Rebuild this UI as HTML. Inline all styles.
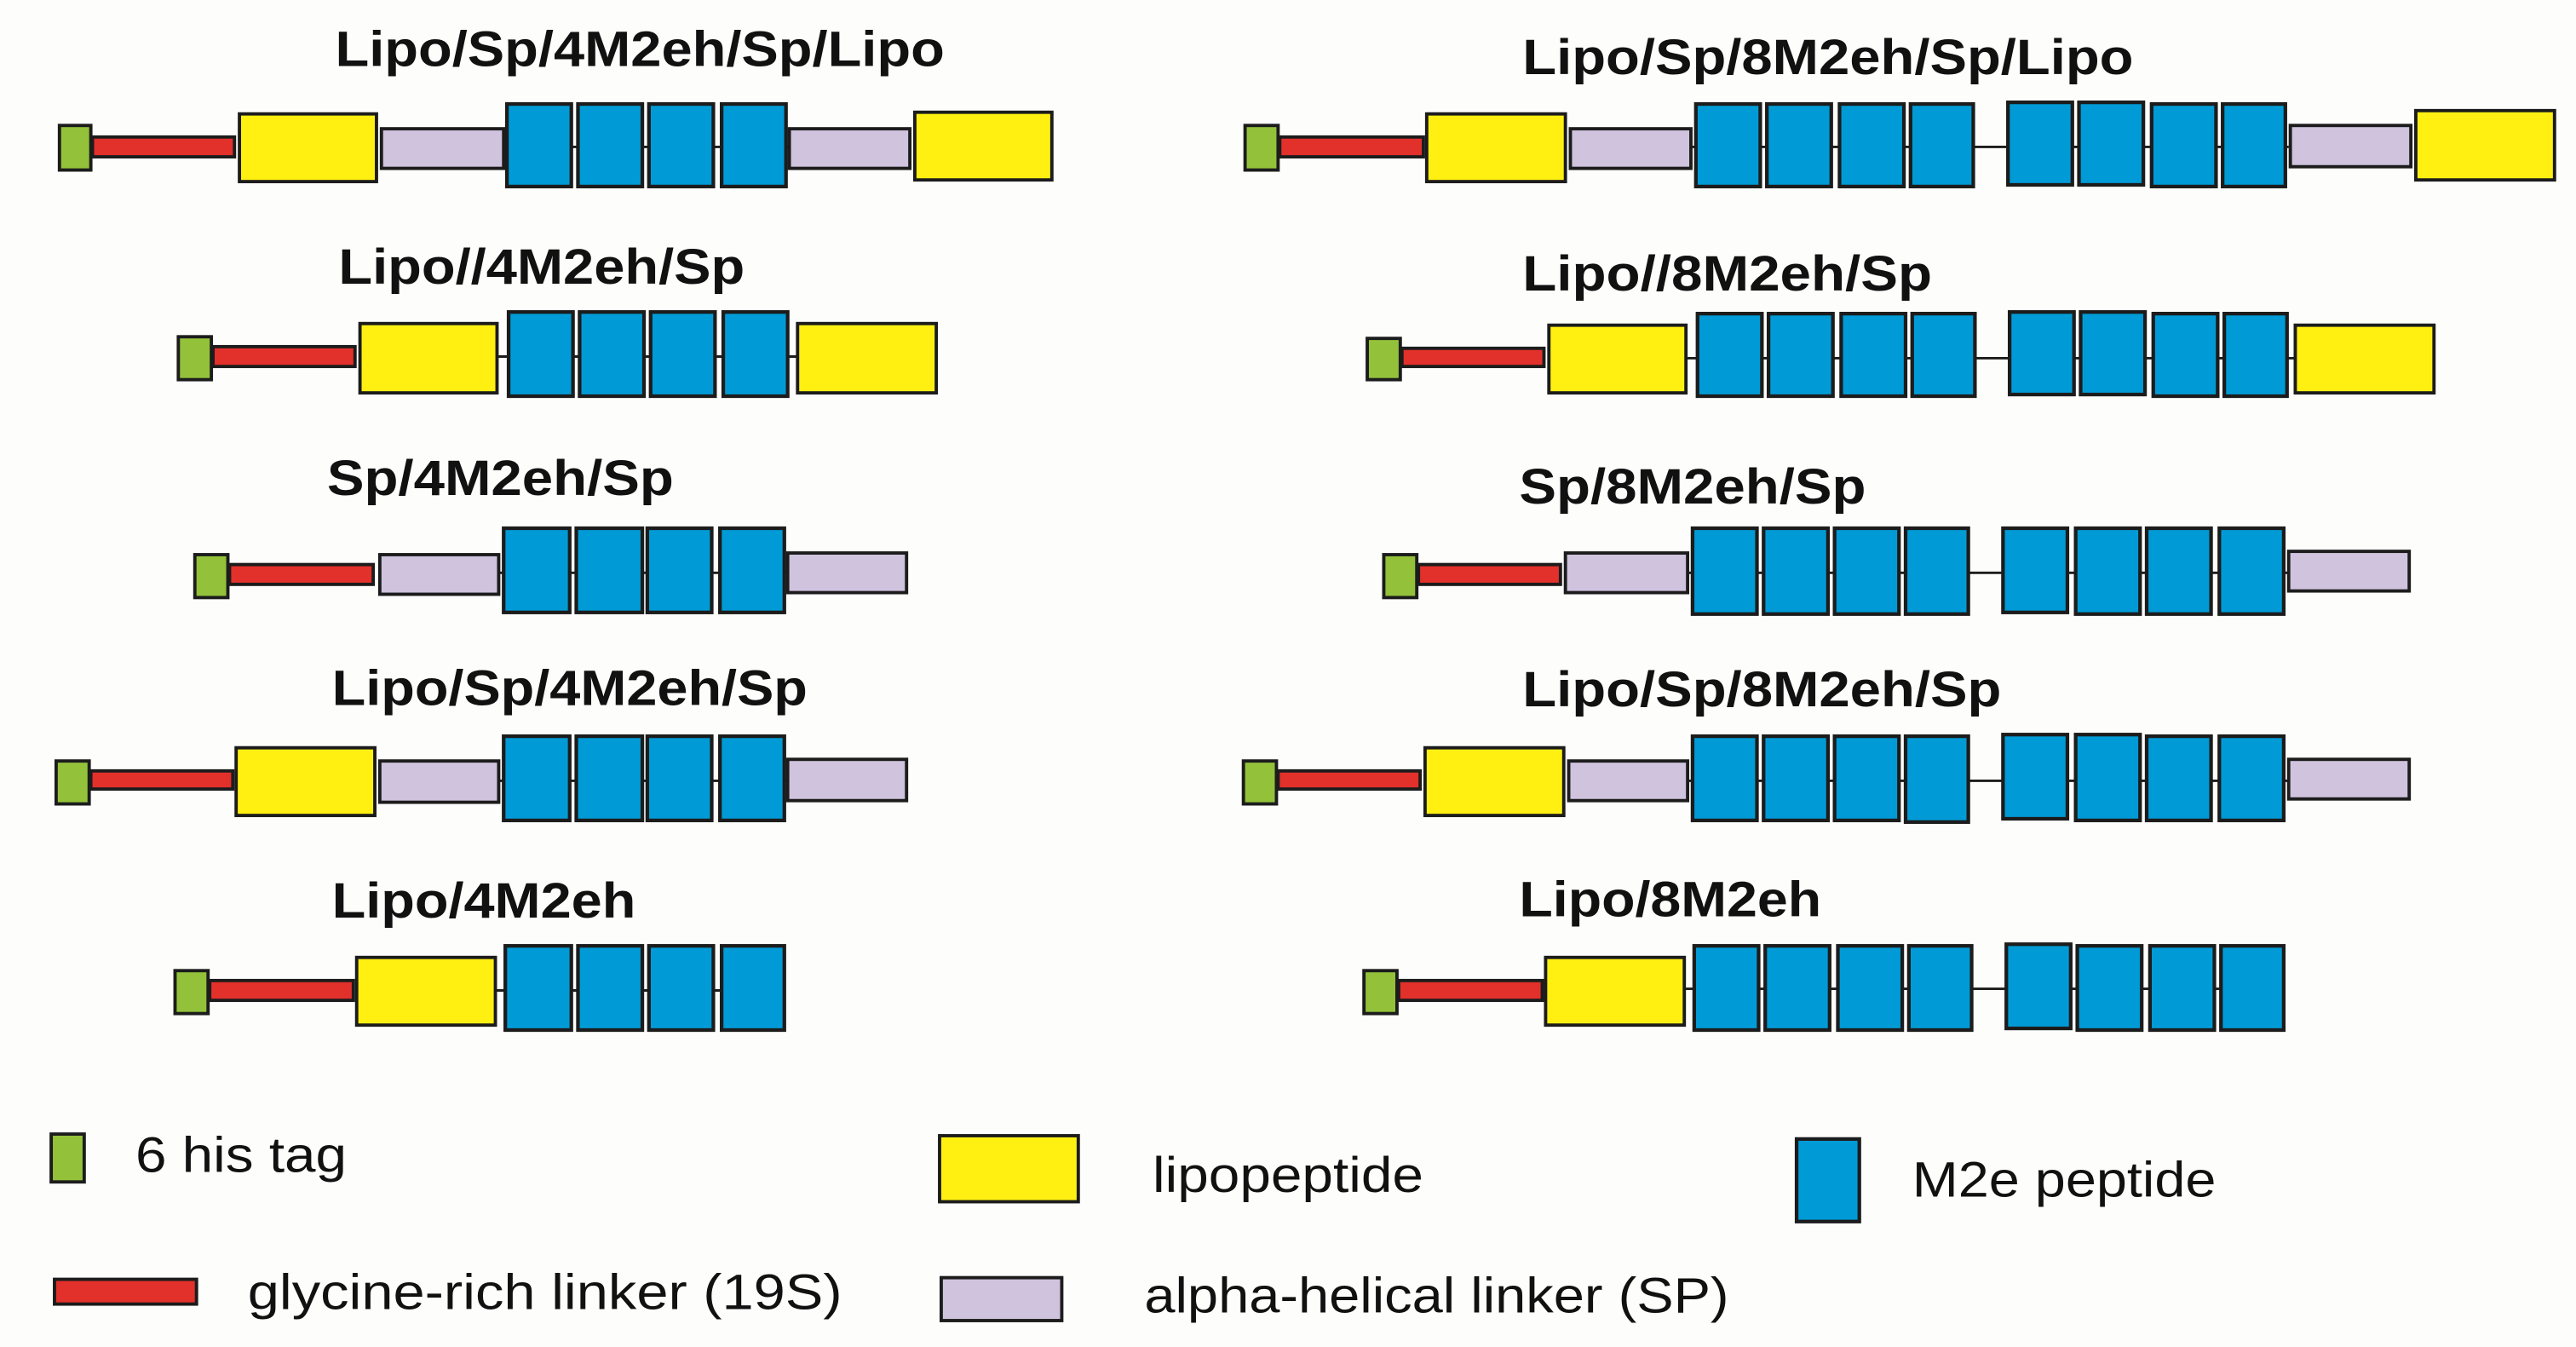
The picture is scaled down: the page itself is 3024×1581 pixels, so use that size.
<!DOCTYPE html>
<html><head><meta charset="utf-8"><style>
html,body{margin:0;padding:0;background:#fdfdfc;}
svg{display:block}
.g{fill:#93c23a;stroke:#1c1c1c;stroke-width:2}
.r{fill:#e2302b;stroke:#1c1c1c;stroke-width:2}
.y{fill:#fff012;stroke:#1c1c1c;stroke-width:2}
.l{fill:#cfc3de;stroke:#1c1c1c;stroke-width:2}
.b{fill:#009bd6;stroke:#1c1c1c;stroke-width:2.2}
.ln{stroke:#1c1c1c;stroke-width:1.5}
.t{font-family:"Liberation Sans",Arial,sans-serif;font-weight:bold;font-size:30px;fill:#111}
.n{font-family:"Liberation Sans",Arial,sans-serif;font-size:30px;fill:#111}
</style></head><body>
<svg width="3024" height="1581" viewBox="0 0 1560 816" preserveAspectRatio="none" xmlns="http://www.w3.org/2000/svg">
<rect width="1560" height="816" fill="#fdfdfc"/>

<!-- LEFT COLUMN -->
<!-- Row 1 -->
<text class="t" x="203" y="40" textLength="369" lengthAdjust="spacingAndGlyphs">Lipo/Sp/4M2eh/Sp/Lipo</text>
<line class="ln" x1="305" y1="89" x2="478" y2="89"/>
<rect class="g" x="36" y="76" width="19" height="27"/>
<rect class="r" x="56" y="83" width="86" height="12"/>
<rect class="y" x="145" y="69" width="83" height="41"/>
<rect class="l" x="231" y="78" width="74" height="24"/>
<rect class="b" x="307" y="63" width="39" height="50"/>
<rect class="b" x="350" y="63" width="39" height="50"/>
<rect class="b" x="393" y="63" width="39" height="50"/>
<rect class="b" x="437" y="63" width="39" height="50"/>
<rect class="l" x="478" y="78" width="73" height="24"/>
<rect class="y" x="554" y="68" width="83" height="41"/>

<!-- Row 2 -->
<text class="t" x="205" y="172" textLength="246" lengthAdjust="spacingAndGlyphs">Lipo//4M2eh/Sp</text>
<line class="ln" x1="301" y1="216" x2="483" y2="216"/>
<rect class="g" x="108" y="204" width="20" height="26"/>
<rect class="r" x="129" y="210" width="86" height="12"/>
<rect class="y" x="218" y="196" width="83" height="42"/>
<rect class="b" x="308" y="189" width="39" height="51"/>
<rect class="b" x="351" y="189" width="39" height="51"/>
<rect class="b" x="394" y="189" width="39" height="51"/>
<rect class="b" x="438" y="189" width="39" height="51"/>
<rect class="y" x="483" y="196" width="84" height="42"/>

<!-- Row 3 -->
<text class="t" x="198" y="300" textLength="210" lengthAdjust="spacingAndGlyphs">Sp/4M2eh/Sp</text>
<line class="ln" x1="302" y1="347" x2="477" y2="347"/>
<rect class="g" x="118" y="336" width="20" height="26"/>
<rect class="r" x="139" y="342" width="87" height="12"/>
<rect class="l" x="230" y="336" width="72" height="24"/>
<rect class="b" x="305" y="320" width="40" height="51"/>
<rect class="b" x="349" y="320" width="40" height="51"/>
<rect class="b" x="392" y="320" width="39" height="51"/>
<rect class="b" x="436" y="320" width="39" height="51"/>
<rect class="l" x="477" y="335" width="72" height="24"/>

<!-- Row 4 -->
<text class="t" x="201" y="427" textLength="288" lengthAdjust="spacingAndGlyphs">Lipo/Sp/4M2eh/Sp</text>
<line class="ln" x1="302" y1="473" x2="477" y2="473"/>
<rect class="g" x="34" y="461" width="20" height="26"/>
<rect class="r" x="55" y="467" width="86" height="11"/>
<rect class="y" x="143" y="453" width="84" height="41"/>
<rect class="l" x="230" y="461" width="72" height="25"/>
<rect class="b" x="305" y="446" width="40" height="51"/>
<rect class="b" x="349" y="446" width="40" height="51"/>
<rect class="b" x="392" y="446" width="39" height="51"/>
<rect class="b" x="436" y="446" width="39" height="51"/>
<rect class="l" x="477" y="460" width="72" height="25"/>

<!-- Row 5 -->
<text class="t" x="201" y="556" textLength="184" lengthAdjust="spacingAndGlyphs">Lipo/4M2eh</text>
<line class="ln" x1="300" y1="600" x2="475" y2="600"/>
<rect class="g" x="106" y="588" width="20" height="26"/>
<rect class="r" x="127" y="594" width="87" height="12"/>
<rect class="y" x="216" y="580" width="84" height="41"/>
<rect class="b" x="306" y="573" width="40" height="51"/>
<rect class="b" x="350" y="573" width="39" height="51"/>
<rect class="b" x="393" y="573" width="39" height="51"/>
<rect class="b" x="437" y="573" width="38" height="51"/>

<!-- RIGHT COLUMN -->
<!-- Row 1 -->
<text class="t" x="922" y="45" textLength="370" lengthAdjust="spacingAndGlyphs">Lipo/Sp/8M2eh/Sp/Lipo</text>
<line class="ln" x1="1024" y1="89" x2="1386" y2="89"/>
<rect class="g" x="754" y="76" width="20" height="27"/>
<rect class="r" x="775" y="83" width="87" height="12"/>
<rect class="y" x="864" y="69" width="84" height="41"/>
<rect class="l" x="951" y="78" width="73" height="24"/>
<rect class="b" x="1027" y="63" width="39" height="50"/>
<rect class="b" x="1070" y="63" width="39" height="50"/>
<rect class="b" x="1114" y="63" width="39" height="50"/>
<rect class="b" x="1157" y="63" width="38" height="50"/>
<rect class="b" x="1216" y="62" width="39" height="50"/>
<rect class="b" x="1259" y="62" width="39" height="50"/>
<rect class="b" x="1303" y="63" width="39" height="50"/>
<rect class="b" x="1346" y="63" width="38" height="50"/>
<rect class="l" x="1387" y="76" width="73" height="25"/>
<rect class="y" x="1463" y="67" width="84" height="42"/>

<!-- Row 2 -->
<text class="t" x="922" y="176" textLength="248" lengthAdjust="spacingAndGlyphs">Lipo//8M2eh/Sp</text>
<line class="ln" x1="1021" y1="217" x2="1390" y2="217"/>
<rect class="g" x="828" y="205" width="20" height="25"/>
<rect class="r" x="849" y="211" width="86" height="11"/>
<rect class="y" x="938" y="197" width="83" height="41"/>
<rect class="b" x="1028" y="190" width="39" height="50"/>
<rect class="b" x="1071" y="190" width="39" height="50"/>
<rect class="b" x="1115" y="190" width="39" height="50"/>
<rect class="b" x="1158" y="190" width="38" height="50"/>
<rect class="b" x="1217" y="189" width="39" height="50"/>
<rect class="b" x="1260" y="189" width="39" height="50"/>
<rect class="b" x="1304" y="190" width="39" height="50"/>
<rect class="b" x="1347" y="190" width="38" height="50"/>
<rect class="y" x="1390" y="197" width="84" height="41"/>

<!-- Row 3 -->
<text class="t" x="920" y="305" textLength="210" lengthAdjust="spacingAndGlyphs">Sp/8M2eh/Sp</text>
<line class="ln" x1="1022" y1="347" x2="1386" y2="347"/>
<rect class="g" x="838" y="336" width="20" height="26"/>
<rect class="r" x="859" y="342" width="86" height="12"/>
<rect class="l" x="948" y="335" width="74" height="24"/>
<rect class="b" x="1025" y="320" width="39" height="52"/>
<rect class="b" x="1068" y="320" width="39" height="52"/>
<rect class="b" x="1111" y="320" width="39" height="52"/>
<rect class="b" x="1154" y="320" width="38" height="52"/>
<rect class="b" x="1213" y="320" width="39" height="51"/>
<rect class="b" x="1257" y="320" width="39" height="52"/>
<rect class="b" x="1300" y="320" width="39" height="52"/>
<rect class="b" x="1344" y="320" width="39" height="52"/>
<rect class="l" x="1386" y="334" width="73" height="24"/>

<!-- Row 4 -->
<text class="t" x="922" y="428" textLength="290" lengthAdjust="spacingAndGlyphs">Lipo/Sp/8M2eh/Sp</text>
<line class="ln" x1="1022" y1="473" x2="1386" y2="473"/>
<rect class="g" x="753" y="461" width="20" height="26"/>
<rect class="r" x="774" y="467" width="86" height="11"/>
<rect class="y" x="863" y="453" width="84" height="41"/>
<rect class="l" x="950" y="461" width="72" height="24"/>
<rect class="b" x="1025" y="446" width="39" height="51"/>
<rect class="b" x="1068" y="446" width="39" height="51"/>
<rect class="b" x="1111" y="446" width="39" height="51"/>
<rect class="b" x="1154" y="446" width="38" height="52"/>
<rect class="b" x="1213" y="445" width="39" height="51"/>
<rect class="b" x="1257" y="445" width="39" height="52"/>
<rect class="b" x="1300" y="446" width="39" height="51"/>
<rect class="b" x="1344" y="446" width="39" height="51"/>
<rect class="l" x="1386" y="460" width="73" height="24"/>

<!-- Row 5 -->
<text class="t" x="920" y="555" textLength="183" lengthAdjust="spacingAndGlyphs">Lipo/8M2eh</text>
<line class="ln" x1="1020" y1="599" x2="1383" y2="599"/>
<rect class="g" x="826" y="588" width="20" height="26"/>
<rect class="r" x="847" y="594" width="87" height="12"/>
<rect class="y" x="936" y="580" width="84" height="41"/>
<rect class="b" x="1026" y="573" width="39" height="51"/>
<rect class="b" x="1069" y="573" width="39" height="51"/>
<rect class="b" x="1113" y="573" width="39" height="51"/>
<rect class="b" x="1156" y="573" width="38" height="51"/>
<rect class="b" x="1215" y="572" width="39" height="51"/>
<rect class="b" x="1258" y="573" width="39" height="51"/>
<rect class="b" x="1302" y="573" width="39" height="51"/>
<rect class="b" x="1345" y="573" width="38" height="51"/>

<!-- LEGEND -->
<rect class="g" x="31" y="687" width="20" height="29"/>
<text class="n" x="82" y="710" textLength="128" lengthAdjust="spacingAndGlyphs">6 his tag</text>
<rect class="y" x="569" y="688" width="84" height="40"/>
<text class="n" x="698" y="722" textLength="164" lengthAdjust="spacingAndGlyphs">lipopeptide</text>
<rect class="b" x="1088" y="690" width="38" height="50"/>
<text class="n" x="1158" y="725" textLength="184" lengthAdjust="spacingAndGlyphs">M2e peptide</text>
<rect class="r" x="33" y="775" width="86" height="15"/>
<text class="n" x="150" y="793" textLength="360" lengthAdjust="spacingAndGlyphs">glycine-rich  linker (19S)</text>
<rect class="l" x="570" y="774" width="73" height="26"/>
<text class="n" x="693" y="795" textLength="354" lengthAdjust="spacingAndGlyphs">alpha-helical linker (SP)</text>
</svg>
</body></html>
